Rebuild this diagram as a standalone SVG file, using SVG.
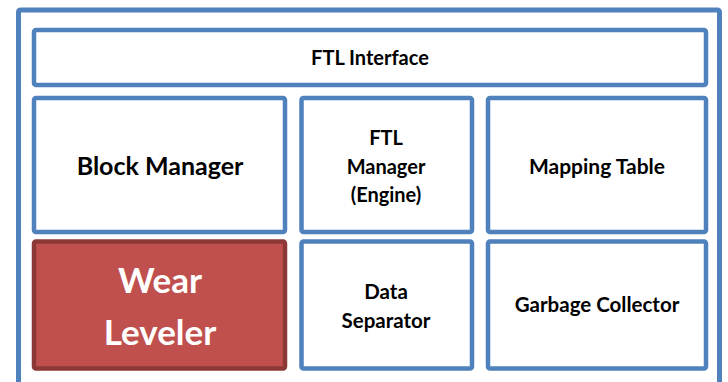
<svg xmlns="http://www.w3.org/2000/svg" width="728" height="382" viewBox="0 0 728 382">
<style>
.box{fill:#fff;stroke:#4F81BD;stroke-width:4.5}
.t{font-family:Lato,"Open Sans","DejaVu Sans",sans-serif;font-weight:bold;fill:#000;text-anchor:middle}
</style>
<rect width="728" height="382" fill="#fff"/>
<g id="container"><rect x="18.5" y="10" width="701" height="390" rx="2" fill="#fff" stroke="#4F81BD" stroke-width="5"/></g>
<g id="ftl-interface"><rect class="box" x="34" y="30" width="672" height="55" rx="2"/><text class="t" x="370" y="65" font-size="20">FTL Interface</text></g>
<g id="block-manager"><rect class="box" x="34" y="98" width="251" height="134" rx="2"/><text class="t" x="160" y="175" font-size="25">Block Manager</text></g>
<g id="ftl-manager"><rect class="box" x="301.5" y="98" width="170.5" height="134" rx="2"/><text class="t" x="386" y="145" font-size="20">FTL</text><text class="t" x="386" y="174" font-size="20">Manager</text><text class="t" x="386" y="202" font-size="20">(Engine)</text></g>
<g id="mapping-table"><rect class="box" x="488" y="98" width="218" height="134" rx="2"/><text class="t" x="597" y="174" font-size="21">Mapping Table</text></g>
<g id="wear-leveler"><rect x="34" y="241.5" width="251" height="127" rx="2" fill="#C0504D" stroke="#8C3836" stroke-width="4.5"/><text class="t" x="160" y="293" font-size="35" style="fill:#fff">Wear</text><text class="t" x="160" y="345" font-size="35" style="fill:#fff">Leveler</text></g>
<g id="data-separator"><rect class="box" x="301.5" y="241.5" width="170.5" height="127" rx="2"/><text class="t" x="386" y="299" font-size="20.5">Data</text><text class="t" x="386" y="328" font-size="20.5">Separator</text></g>
<g id="garbage-collector"><rect class="box" x="488" y="241.5" width="218" height="127" rx="2"/><text class="t" x="597" y="312" font-size="20.5">Garbage Collector</text></g>
<g id="connectors"/>
</svg>
